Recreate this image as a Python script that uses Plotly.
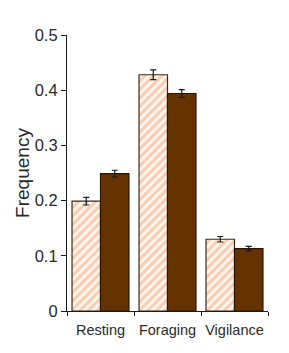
import plotly.graph_objects as go

categories = ["Resting", "Foraging", "Vigilance"]
light_values = [0.199, 0.428, 0.130]
light_errors = [0.007, 0.009, 0.005]
dark_values = [0.249, 0.394, 0.113]
dark_errors = [0.006, 0.007, 0.004]
y_ticks = [0, 0.1, 0.2, 0.3, 0.4, 0.5]
y_tick_labels = ["0", "0.1", "0.2", "0.3", "0.4", "0.5"]

fig = go.Figure()
fig.add_trace(go.Bar(
    x=categories, y=light_values,
    error_y=dict(type="data", array=light_errors, color="#1a1a1a", thickness=1.2, width=3),
    marker=dict(color="#fff6ef", line=dict(color="#3a2a1a", width=1.2),
                pattern=dict(shape="/", fgcolor="#f2a272", bgcolor="#fff6ef", size=6, solidity=0.5)),
    showlegend=False,
))
fig.add_trace(go.Bar(
    x=categories, y=dark_values,
    error_y=dict(type="data", array=dark_errors, color="#1a1a1a", thickness=1.2, width=3),
    marker=dict(color="#663300", line=dict(color="#2a1505", width=1.2)),
    showlegend=False,
))

font = "Liberation Sans, Arial, sans-serif"
fig.update_layout(
    width=289, height=353,
    margin=dict(l=67, r=21, t=35, b=42),
    paper_bgcolor="white", plot_bgcolor="white",
    barmode="group", bargap=0.15, bargroupgap=0,
    font=dict(family=font, color="#2a2a2a", size=14),
)
fig.update_xaxes(
    showline=True, linecolor="#1a1a1a", linewidth=1.2,
    ticks="outside", tickson="boundaries", ticklen=4, tickcolor="#1a1a1a",
    showgrid=False, tickfont=dict(size=14.5, family=font), ticklabelstandoff=5,
    tickangle=0, automargin=False,
)
fig.update_yaxes(
    range=[0, 0.5], tickvals=y_ticks, ticktext=y_tick_labels,
    showline=True, linecolor="#1a1a1a", linewidth=1.2,
    ticks="outside", ticklen=5, tickcolor="#1a1a1a",
    showgrid=False, zeroline=False, tickfont=dict(size=16.5, family=font),
    title=dict(text="Frequency", font=dict(size=19, family=font), standoff=0),
    automargin=False,
)
fig.write_html("out.html")
